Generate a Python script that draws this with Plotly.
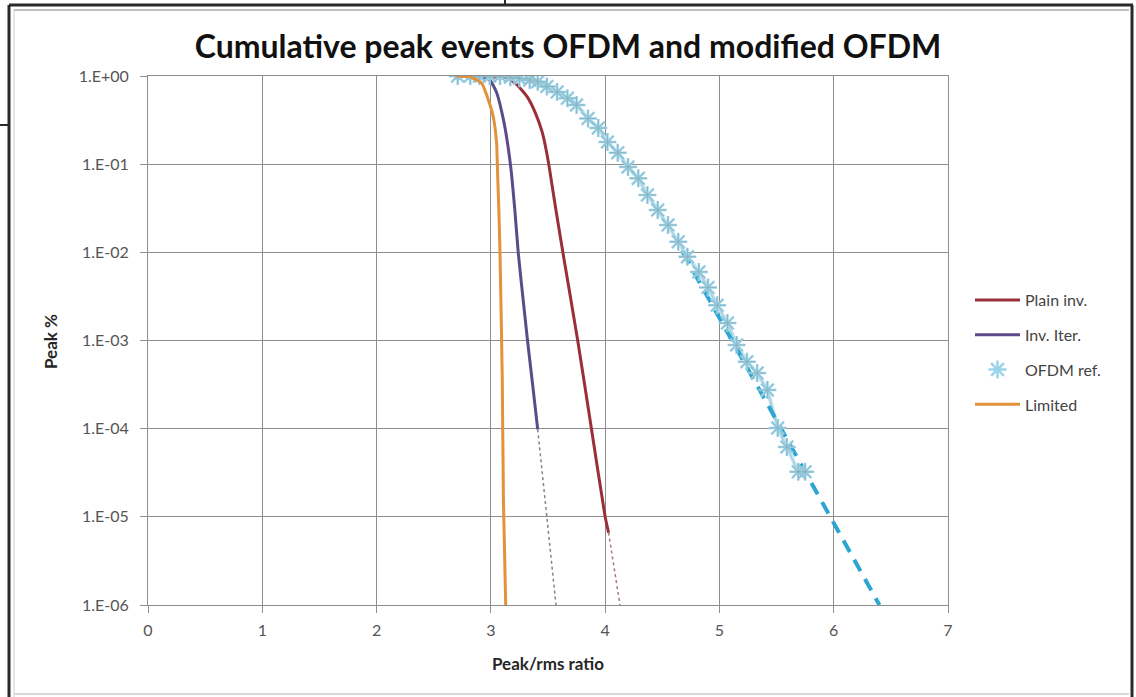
import plotly.graph_objects as go

# ---------------- data ----------------
plain_x = [2.73, 3.01, 3.14, 3.23, 3.32, 3.39, 3.45, 3.50, 3.56, 3.63, 3.76, 3.88, 4.00, 4.03]
plain_y = [1.0, 0.977, 0.955, 0.794, 0.575, 0.380, 0.229, 0.112, 0.036, 0.0100, 1.0e-3, 1.0e-4, 1.0e-5, 6.6e-6]

iter_x = [2.73, 2.90, 2.99, 3.05, 3.11, 3.15, 3.18, 3.21, 3.24, 3.28, 3.32, 3.365, 3.41]
iter_y = [1.0, 0.977, 0.90, 0.65, 0.32, 0.16, 0.079, 0.030, 0.0098, 0.0031, 0.00102, 3.2e-4, 9.8e-5]

lim_x = [2.69, 2.82, 2.92, 2.97, 3.02, 3.05, 3.06, 3.07, 3.08, 3.10, 3.11, 3.13]
lim_y = [1.0, 0.977, 0.83, 0.575, 0.35, 0.174, 0.071, 0.030, 0.0098, 3.5e-4, 1.55e-5, 1.0e-6]

ofdm_x = [2.71, 2.82, 2.90, 2.99, 3.08, 3.17, 3.25, 3.34, 3.41, 3.49, 3.58, 3.67, 3.75, 3.85,
          3.94, 4.02, 4.11, 4.20, 4.29, 4.37, 4.46, 4.55, 4.64, 4.72, 4.82, 4.90, 4.98, 5.07,
          5.15, 5.24, 5.33, 5.42, 5.51, 5.59, 5.69, 5.75]
ofdm_y = [1.0, 1.0, 1.0, 1.0, 1.0, 0.966, 0.94, 0.90, 0.86, 0.76, 0.66, 0.56, 0.47, 0.33,
          0.257, 0.178, 0.135, 0.093, 0.069, 0.0447, 0.0302, 0.0204, 0.0132, 0.0089, 0.0060,
          0.0040, 0.00251, 0.00158, 8.9e-4, 5.75e-4, 4.27e-4, 2.75e-4, 1.02e-4, 6.2e-5,
          3.24e-5, 3.24e-5]

trend_x = [4.68, 6.40]
trend_y = [1.0e-2, 1.0e-6]

plain_ext_x = [4.03, 4.13]
plain_ext_y = [6.6e-6, 1.0e-6]
iter_ext_x = [3.41, 3.57]
iter_ext_y = [9.8e-5, 1.0e-6]

y_tickvals = [1, 1e-1, 1e-2, 1e-3, 1e-4, 1e-5, 1e-6]
y_ticktext = ["1.E+00", "1.E-01", "1.E-02", "1.E-03", "1.E-04", "1.E-05", "1.E-06"]
x_tickvals = [0, 1, 2, 3, 4, 5, 6, 7]

FONT = "Lato"
W, H = 1136, 697
L, R, T, B = 148, 948, 76, 605


def px(x):
    return (x - L) / (R - L)


def py(y):
    return (B - y) / (B - T)


fig = go.Figure()

# OFDM ref connecting line
fig.add_trace(go.Scatter(x=ofdm_x, y=ofdm_y, mode="lines",
                         line=dict(color="#bfe3f2", width=4), showlegend=False, hoverinfo="skip"))
fig.add_trace(go.Scatter(x=ofdm_x, y=ofdm_y, mode="lines",
                         line=dict(color="#a3c7d2", width=1), showlegend=False, hoverinfo="skip"))
# trend dashed
fig.add_trace(go.Scatter(x=trend_x, y=trend_y, mode="lines",
                         line=dict(color="#2ba6d2", width=4, dash="13px,9px"),
                         showlegend=False, hoverinfo="skip"))
# extrapolation dotted lines
fig.add_trace(go.Scatter(x=plain_ext_x, y=plain_ext_y, mode="lines",
                         line=dict(color="#a8787c", width=1.5, dash="dot"), showlegend=False))
fig.add_trace(go.Scatter(x=iter_ext_x, y=iter_ext_y, mode="lines",
                         line=dict(color="#85808f", width=1.5, dash="dot"), showlegend=False))

fig.add_trace(go.Scatter(x=plain_x, y=plain_y, mode="lines", name="Plain inv.",
                         line=dict(color="#9a2f39", width=3, shape="spline", smoothing=0.5),
                         legendgroup="a"))
fig.add_trace(go.Scatter(x=iter_x, y=iter_y, mode="lines", name="Inv. Iter.",
                         line=dict(color="#5c4b8a", width=3, shape="spline", smoothing=0.5),
                         legendgroup="b"))
# OFDM ref star markers, light blue with thin grey core
fig.add_trace(go.Scatter(x=ofdm_x, y=ofdm_y, mode="markers", name="OFDM ref.",
                         marker=dict(symbol="asterisk-open", size=15, color="#9ad4ea",
                                     line=dict(width=2.5)),
                         legendgroup="c"))
fig.add_trace(go.Scatter(x=ofdm_x, y=ofdm_y, mode="markers", showlegend=False,
                         marker=dict(symbol="asterisk-open", size=14, color="#8aaeb9",
                                     line=dict(width=0.8)),
                         legendgroup="c", hoverinfo="skip"))
fig.add_trace(go.Scatter(x=lim_x, y=lim_y, mode="lines", name="Limited",
                         line=dict(color="#e3913a", width=3, shape="spline", smoothing=0.5),
                         legendgroup="d"))

grid = "#8e8e8e"
fig.update_xaxes(range=[0, 7], tickvals=x_tickvals, showgrid=True, gridcolor=grid, gridwidth=1,
                 zeroline=False, showline=True, linecolor=grid, linewidth=1, mirror=True,
                 ticks="outside", ticklen=7, tickcolor=grid,
                 tickfont=dict(family=FONT, size=16, color="#555555"),
                 ticklabelstandoff=4)
fig.update_yaxes(type="log", range=[-6, 0], tickvals=y_tickvals, ticktext=y_ticktext,
                 showgrid=True, gridcolor=grid, gridwidth=1,
                 zeroline=False, showline=True, linecolor=grid, linewidth=1, mirror=True,
                 ticks="outside", ticklen=7, tickcolor=grid,
                 tickfont=dict(family=FONT, size=16, color="#555555"),
                 ticklabelstandoff=8)

shapes = [
    # outer dark frame
    dict(type="line", xref="paper", yref="paper", x0=px(9), x1=px(1133), y0=py(5), y1=py(5),
         line=dict(color="#2a2a2a", width=3)),
    dict(type="line", xref="paper", yref="paper", x0=px(9), x1=px(9), y0=py(5), y1=py(697),
         line=dict(color="#2a2a2a", width=3)),
    dict(type="line", xref="paper", yref="paper", x0=px(1132), x1=px(1132), y0=py(5), y1=py(697),
         line=dict(color="#2a2a2a", width=3)),
    # inner light frame
    dict(type="line", xref="paper", yref="paper", x0=px(14), x1=px(1129), y0=py(10), y1=py(10),
         line=dict(color="#bdbdbd", width=2)),
    dict(type="line", xref="paper", yref="paper", x0=px(14), x1=px(14), y0=py(10), y1=py(697),
         line=dict(color="#cfcfcf", width=1)),
    dict(type="line", xref="paper", yref="paper", x0=px(14), x1=px(1129), y0=py(694), y1=py(694),
         line=dict(color="#d8d8d8", width=2)),
    # small stray marks
    dict(type="line", xref="paper", yref="paper", x0=px(0), x1=px(10), y0=py(125), y1=py(125),
         line=dict(color="#2a2a2a", width=2)),
    dict(type="line", xref="paper", yref="paper", x0=px(505), x1=px(505), y0=py(0), y1=py(5),
         line=dict(color="#2a2a2a", width=2)),
]

annotations = [
    dict(text="<b>Peak/rms ratio</b>", xref="paper", yref="paper", x=px(548), y=py(663),
         xanchor="center", yanchor="middle", showarrow=False,
         font=dict(family=FONT, size=17, color="#262626")),
    dict(text="<b>Peak %</b>", xref="paper", yref="paper", x=px(50), y=py(342),
         xanchor="center", yanchor="middle", showarrow=False, textangle=-90,
         font=dict(family=FONT, size=17, color="#262626")),
]

fig.update_layout(
    width=W, height=H,
    margin=dict(l=L, r=W - R, t=T, b=H - B, pad=0),
    paper_bgcolor="white", plot_bgcolor="white",
    title=dict(text="<b>Cumulative peak events OFDM and modified OFDM</b>",
               x=0.5, xanchor="center", y=1 - 47 / H, yanchor="middle",
               font=dict(family=FONT, size=32, color="#111111")),
    legend=dict(x=px(970), y=py(283), xanchor="left", yanchor="top",
                font=dict(family=FONT, size=16, color="#444444"),
                traceorder="grouped", tracegroupgap=11, bgcolor="rgba(0,0,0,0)",
                itemwidth=45),
    shapes=shapes,
    annotations=annotations,
    showlegend=True,
)

fig.write_html("out.html")
